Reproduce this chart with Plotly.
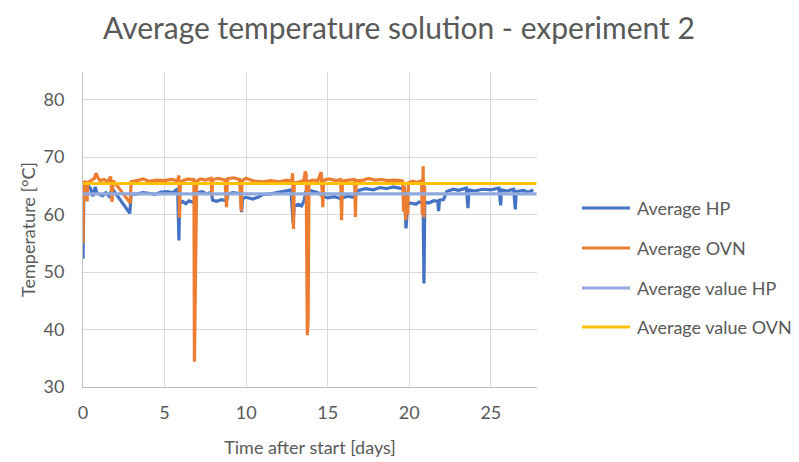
import plotly.graph_objects as go

# ---- data ----
hp_days = [0.0, 0.02, 0.05, 0.15, 0.3, 0.45, 0.6, 0.75, 0.85, 1.0, 1.2, 1.4, 1.6, 1.75, 1.85,
           2.87, 2.95, 3.3, 3.7, 4.0, 4.4, 4.8, 5.2, 5.5, 5.8, 5.88, 5.92, 6.1, 6.3, 6.5, 6.7,
           6.85, 7.0, 7.3, 7.6, 7.85, 7.95, 8.2, 8.5, 8.8, 8.9, 9.2, 9.5, 9.68, 9.72, 9.78,
           10.0, 10.4, 10.8, 11.0, 11.5, 12.0, 12.4, 12.75, 12.88, 12.95, 13.2, 13.4, 13.55,
           13.65, 14.0, 14.4, 14.7, 15.0, 15.4, 15.8, 16.2, 16.6, 16.9, 17.3, 17.8, 18.2, 18.6,
           19.0, 19.4, 19.7, 19.8, 19.9, 20.1, 20.4, 20.6, 20.85, 20.9, 20.95, 21.2, 21.5,
           21.75, 21.8, 21.85, 22.1, 22.3, 22.7, 23.0, 23.5, 23.6, 23.65, 24.0, 24.5, 25.0,
           25.5, 25.6, 25.65, 26.0, 26.4, 26.5, 26.55, 27.0, 27.3, 27.6]
hp_temp = [52.3, 54.5, 63.0, 64.5, 65.0, 64.6, 63.2, 64.8, 63.8, 63.5, 63.3, 63.8, 63.2, 64.2, 64.3,
           60.2, 63.5, 63.6, 63.8, 63.7, 63.5, 63.9, 64.0, 63.8, 64.5, 55.5, 62.0, 62.3, 61.9, 62.4, 62.2,
           62.0, 63.8, 64.0, 63.6, 63.9, 62.5, 62.3, 62.6, 62.4, 63.6, 63.8, 63.7, 63.5, 60.4, 62.8,
           63.0, 62.7, 63.1, 63.5, 63.6, 63.9, 64.1, 64.3, 58.5, 61.5, 61.8, 61.5, 62.4,
           63.9, 64.1, 63.8, 63.2, 62.9, 63.1, 62.8, 63.2, 63.0, 64.2, 64.5, 64.3, 64.7, 64.5,
           64.8, 64.6, 64.3, 57.6, 61.8, 62.0, 61.8, 62.2, 62.0, 48.0, 62.2, 62.0, 62.4,
           62.3, 60.6, 62.5, 62.6, 64.0, 64.4, 64.2, 64.6, 61.1, 64.3, 64.1, 64.4, 64.3,
           64.6, 61.6, 64.3, 64.1, 64.4, 60.9, 64.0, 64.2, 63.9, 64.3]

ovn_days = [0.0, 0.03, 0.15, 0.25, 0.3, 0.5, 0.7, 0.8, 0.9, 1.05, 1.3, 1.5, 1.7, 1.78, 1.85,
            2.9, 2.95, 3.3, 3.7, 4.0, 4.5, 5.0, 5.4, 5.8, 5.88, 5.92, 5.97, 6.2, 6.5, 6.75,
            6.8, 6.83, 6.88, 6.92, 6.97, 7.2, 7.5, 7.85, 7.9, 7.95, 8.3, 8.7, 8.8, 8.85, 9.2,
            9.6, 9.7, 9.75, 10.0, 10.5, 11.0, 11.5, 12.0, 12.5, 12.8, 12.85, 12.9, 12.95, 13.3,
            13.55, 13.62, 13.68, 13.72, 13.75, 13.8, 13.85, 14.1, 14.4, 14.6, 14.7, 14.75, 15.1,
            15.5, 15.8, 15.85, 15.9, 16.3, 16.65, 16.7, 16.75, 17.2, 17.5, 17.9, 18.3, 18.7,
            19.1, 19.5, 19.6, 19.65, 19.7, 19.78, 19.85, 19.9, 19.95, 20.2, 20.5, 20.75, 20.8,
            20.85, 20.9, 20.95]
ovn_temp = [55.0, 65.5, 65.8, 62.3, 65.6, 66.0, 66.3, 67.2, 66.5, 65.9, 66.1, 65.7, 66.6, 62.2, 65.9,
            62.0, 65.7, 65.9, 66.2, 65.8, 66.0, 65.9, 66.1, 65.9, 66.8, 59.5, 65.6, 66.0, 66.2, 66.0,
            66.3, 34.4, 49.5, 49.2, 65.8, 66.2, 66.0, 66.3, 63.2, 66.1, 66.3, 66.0, 61.3, 66.2, 66.4,
            66.1, 60.6, 65.9, 66.3, 65.8, 65.7, 65.9, 65.7, 66.0, 65.8, 67.2, 57.5, 65.5, 65.7,
            66.0, 67.5, 67.0, 41.0, 39.0, 41.5, 65.8, 66.0, 65.9, 67.4, 61.3, 66.0, 66.2,
            65.9, 66.1, 59.0, 65.8, 66.0, 66.1, 59.6, 65.9, 66.0, 66.3, 66.0, 66.1, 65.9,
            66.0, 65.9, 65.8, 60.5, 65.0, 59.0, 64.0, 60.0, 65.5, 65.8, 65.6, 65.9, 60.0,
            68.4, 59.5, 65.0]

avg_days = [0.0, 27.8]
avg_hp = [63.6, 63.6]
avg_ovn = [65.4, 65.4]

x_ticks = [0, 5, 10, 15, 20, 25]
y_ticks = [30, 40, 50, 60, 70, 80]

series_names = ["Average HP", "Average OVN", "Average value HP", "Average value OVN"]
series_colors = ["#4472C4", "#ED7D31", "#8FAADC", "#FFC000"]

FONT = "Lato"
GRAY = "#595959"

# figure geometry (figure pixels)
W, H = 799, 462
ML, MT, PW, PH = 75, 64, 454, 315
MR, MB = W - ML - PW, H - MT - PH


def px_x(x):
    return (x - ML) / PW


def px_y(y):
    return 1 - (y - MT) / PH


fig = go.Figure()
xs = [hp_days, ovn_days, avg_days, avg_days]
ys = [hp_temp, ovn_temp, avg_hp, avg_ovn]
for name, color, xv, yv in zip(series_names, series_colors, xs, ys):
    fig.add_trace(go.Scatter(x=xv, y=yv, mode="lines", name=name,
                             line=dict(color=color, width=3.2), showlegend=False))

# legend drawn as line samples + text to the right of the plot
leg_rows = [200, 240, 280, 319]
shapes, annots = [], []
for name, color, ry in zip(series_names, series_colors, leg_rows):
    shapes.append(dict(type="line", xref="paper", yref="paper",
                       x0=px_x(574), x1=px_x(622), y0=px_y(ry), y1=px_y(ry),
                       line=dict(color=color, width=3)))
    annots.append(dict(text=name, xref="paper", yref="paper", x=px_x(627), y=px_y(ry),
                       xanchor="left", yanchor="middle", showarrow=False,
                       font=dict(size=18, family=FONT, color=GRAY)))

fig.update_layout(
    width=W, height=H,
    margin=dict(l=ML, r=MR, t=MT, b=MB),
    paper_bgcolor="white", plot_bgcolor="white",
    font=dict(family=FONT, color=GRAY),
    title=dict(text="Average temperature solution - experiment 2",
               x=391 / W, xanchor="center", y=1 - 20 / H, yanchor="middle",
               font=dict(size=30, family=FONT, color=GRAY)),
    showlegend=False,
    shapes=shapes,
    annotations=annots,
)
fig.update_xaxes(range=[0, 27.83], tickvals=x_ticks, ticktext=[str(v) for v in x_ticks],
                 showgrid=True, gridcolor="#D9D9D9", gridwidth=1,
                 showline=True, linecolor="#BFBFBF", linewidth=1, zeroline=False,
                 ticks="", ticklabelstandoff=9, tickfont=dict(size=18, family=FONT, color=GRAY),
                 automargin=False,
                 title=dict(text="Time after start [days]", font=dict(size=18, family=FONT, color=GRAY),
                            standoff=19))
fig.update_yaxes(range=[30, 84.8], tickvals=y_ticks, ticktext=[str(v) for v in y_ticks],
                 showgrid=True, gridcolor="#D9D9D9", gridwidth=1,
                 showline=True, linecolor="#BFBFBF", linewidth=1, zeroline=False,
                 ticks="", ticklabelstandoff=14, tickfont=dict(size=18, family=FONT, color=GRAY),
                 automargin=False,
                 title=dict(text="Temperature [°C]", font=dict(size=18, family=FONT, color=GRAY),
                            standoff=3))

fig.write_html("out.html")
